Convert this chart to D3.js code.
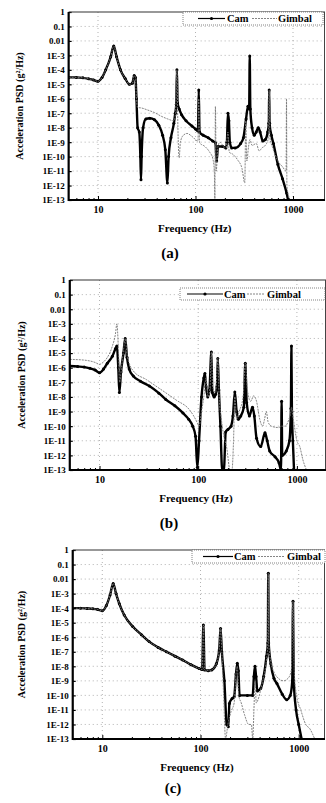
<!DOCTYPE html>
<html>
<head>
<meta charset="utf-8">
<script src="https://cdn.jsdelivr.net/npm/d3@7"></script>
<style>
  body { margin: 0; background: #fff; }
  svg { display: block; }
  text { font-family: "Liberation Serif", "Times New Roman", serif; font-weight: bold; fill: #000; }
</style>
</head>
<body>
<svg id="chart" width="326" height="803"></svg>
<script>
// ---- data ----
const yTickValues = [1, 1e-1, 1e-2, 1e-3, 1e-4, 1e-5, 1e-6, 1e-7, 1e-8, 1e-9, 1e-10, 1e-11, 1e-12, 1e-13];
const yTickLabels = ["1", "0.1", "0.01", "1E-3", "1E-4", "1E-5", "1E-6", "1E-7", "1E-8", "1E-9", "1E-10", "1E-11", "1E-12", "1E-13"];
const xTickValues = [10, 100, 1000];
const xTickLabels = ["10", "100", "1000"];
const xMinorTicks = [6, 7, 8, 9, 20, 30, 40, 50, 60, 70, 80, 90, 200, 300, 400, 500, 600, 700, 800, 900];
const seriesNames = ["Cam", "Gimbal"];
const panelLetters = ["(a)", "(b)", "(c)"];

// [frequency Hz, PSD g^2/Hz]
const camA = [
  [5, 3e-5], [6, 3e-5], [7, 2.8e-5], [8, 2.4e-5], [9, 2e-5], [10, 1.6e-5], [11, 3e-5], [12, 1e-4],
  [13.5, 8e-4], [14.5, 4.5e-3], [15.5, 8e-4], [17, 1e-4], [19, 2.5e-5], [21, 1e-5], [22.5, 1.2e-5],
  [23.5, 4e-5], [24.2, 3e-5], [24.8, 1e-6], [25.5, 1e-8], [26.5, 5e-9], [27.2, 1e-10], [27.6, 2.5e-12],
  [28, 1e-10], [29, 1e-8], [31, 4e-8], [34, 4.5e-8], [38, 3.5e-8], [42, 1.5e-8], [46, 3e-9], [49, 3e-10],
  [51.5, 1.5e-12], [53, 1e-10], [56, 2e-9], [60, 2e-8], [62, 1e-7], [63.5, 4e-7], [64.5, 1e-4],
  [65.5, 5e-7], [68, 2e-7], [72, 8e-8], [80, 3e-8], [92, 1.3e-8], [100, 8e-9], [106, 6e-9], [108, 4e-6],
  [110, 5e-9], [120, 3e-9], [135, 2e-9], [150, 1.2e-9], [160, 9e-10], [165, 5e-11], [170, 5e-10],
  [190, 5e-10], [205, 4e-10], [210, 1e-9], [215, 1e-7], [220, 3e-8], [225, 1e-9], [235, 4e-10],
  [255, 4e-10], [290, 8e-10], [310, 2e-9], [330, 4e-8], [345, 3e-7], [355, 2e-7], [360, 9e-4],
  [365, 2e-7], [380, 1e-8], [400, 3e-9], [420, 5e-9], [440, 1e-8], [460, 5e-9], [490, 1.2e-9],
  [520, 1.5e-9], [550, 5e-9], [565, 2e-8], [570, 4e-6], [575, 2e-8], [600, 3e-9], [630, 8e-10],
  [700, 2.8e-11], [780, 3e-12], [860, 3e-13], [890, 1e-13]
];
const gimbalA = [
  [5, 3e-5], [6, 3e-5], [7, 2.8e-5], [8, 2.4e-5], [9, 2e-5], [10, 1.6e-5], [11, 3e-5], [12, 1e-4],
  [13.5, 8e-4], [14.5, 4.5e-3], [15.5, 8e-4], [17, 1e-4], [19, 2.5e-5], [21, 1e-5], [22.5, 1.2e-5],
  [23.5, 4e-5], [24.2, 3e-5], [24.8, 1e-6], [25.5, 2.5e-7], [28, 2.3e-7], [32, 1.7e-7], [38, 1.1e-7],
  [45, 6e-8], [52, 4e-8], [60, 3e-8], [62.5, 1e-7], [64.5, 1e-4], [66, 1e-8], [68, 8e-11], [70, 1e-9],
  [75, 3e-9], [82, 4e-9], [92, 2.5e-9], [106, 1.2e-9], [108, 1e-6], [110, 9e-10], [125, 5e-10],
  [140, 2e-10], [150, 8e-11], [156, 1e-11], [158, 1e-13], [160, 3e-7], [163, 1e-11], [170, 5e-10],
  [178, 1e-9], [190, 6e-10], [205, 3e-10], [215, 5e-9], [222, 2e-10], [240, 1.5e-10], [270, 6e-11],
  [300, 1.5e-11], [320, 1.5e-12], [328, 3e-8], [336, 5e-11], [350, 5e-10], [362, 1.5e-9], [380, 6e-10],
  [420, 8e-10], [450, 2.5e-10], [480, 4e-10], [520, 6e-10], [560, 2e-9], [570, 4e-6], [580, 2e-9],
  [620, 4e-10], [700, 5e-11], [780, 2e-11], [850, 1e-11], [858, 1e-6], [866, 1e-12], [900, 2e-13],
  [930, 1e-13]
];

const camB = [
  [5, 1.3e-6], [6, 1.2e-6], [7, 1.1e-6], [8, 9e-7], [9, 7e-7], [10, 4.5e-7], [11, 8e-7], [12, 2e-6],
  [13.5, 6e-6], [14.5, 2e-5], [15, 3e-5], [15.5, 1e-6], [15.9, 2e-8], [16.5, 5e-7], [17.5, 1e-5],
  [18.2, 1e-4], [19, 5e-6], [20, 8e-7], [22, 2.7e-7], [26, 1.2e-7], [32, 5.5e-8], [40, 1.8e-8],
  [47, 6.7e-9], [58, 2.5e-9], [70, 8e-10], [80, 3e-10], [88, 1e-10], [94, 2e-11], [98, 1.5e-13],
  [102, 1e-11], [108, 1e-8], [114, 2e-7], [117, 4e-7], [120, 5e-8], [125, 1e-8], [130, 3e-8],
  [136, 1.2e-5], [139, 2e-8], [145, 1e-8], [150, 1.5e-8], [155, 5e-8], [158, 4.3e-6], [162, 3e-8],
  [168, 1e-10], [175, 1e-13], [182, 1e-13], [190, 4e-11], [200, 6e-11], [215, 1e-10], [225, 5e-10],
  [235, 2.2e-8], [245, 1e-9], [255, 3e-10], [270, 5e-10], [290, 2e-9], [300, 2e-6], [310, 4e-9],
  [330, 5e-10], [355, 2e-9], [370, 5e-10], [390, 1.5e-11], [430, 4e-12], [475, 3.5e-11], [500, 1e-11],
  [530, 2e-12], [600, 8e-13], [660, 3e-13], [690, 1e-13], [700, 5e-9], [710, 1e-12], [780, 2e-12],
  [840, 1e-11], [870, 1.6e-9], [880, 3e-5], [890, 1e-9], [910, 1e-11], [935, 1e-13]
];
const gimbalB = [
  [5, 3.7e-6], [7, 3.3e-6], [9, 2.3e-6], [10, 1.7e-6], [11, 2.5e-6], [12, 5e-6], [13.5, 3e-5],
  [14.5, 2e-4], [15, 1e-3], [15.5, 3e-5], [16, 1e-7], [16.7, 1e-6], [17.5, 1.5e-5], [18.2, 1e-4],
  [19, 8e-6], [20, 2e-6], [22, 6e-7], [30, 1.5e-7], [40, 4e-8], [47, 1.9e-8], [60, 6e-9], [81, 1.4e-9],
  [90, 5e-10], [98, 1.7e-10], [102, 1e-10], [108, 1e-9], [114, 1e-8], [120, 2e-7], [126, 1e-8],
  [132, 5e-8], [136, 1.2e-5], [140, 5e-8], [150, 2e-8], [158, 4.3e-6], [163, 1e-8], [170, 5e-10],
  [180, 3e-11], [195, 3e-12], [210, 1e-13], [220, 1e-13], [228, 1e-11], [235, 1e-8], [245, 3e-10],
  [260, 1e-9], [285, 1e-8], [300, 2e-6], [315, 3e-8], [340, 5e-9], [365, 1.2e-8], [390, 5e-9],
  [420, 3e-10], [450, 1e-10], [470, 3e-10], [490, 1e-9], [510, 2e-10], [550, 1e-10], [650, 8e-11],
  [700, 1e-10], [760, 1e-10], [830, 3e-10], [870, 1e-9], [880, 2e-9], [920, 3e-10], [1000, 1e-11],
  [1070, 4e-12], [1150, 5e-13], [1250, 1e-13]
];

const camC = [
  [5, 1e-4], [6, 1e-4], [7, 9.5e-5], [8, 9e-5], [9, 8e-5], [10, 6.5e-5], [11, 1.5e-4], [12, 8e-4],
  [12.9, 5e-3], [13.8, 1e-3], [14.9, 2e-4], [16.7, 3.4e-5], [20.4, 5.4e-6], [25, 1.5e-6], [30, 5e-7],
  [37, 2e-7], [45, 1e-7], [55, 5e-8], [66, 2.7e-8], [80, 1.3e-8], [97, 7e-9], [104, 6e-9], [107, 7e-6],
  [110, 5.6e-9], [120, 5e-9], [130, 5.6e-9], [145, 1.5e-8], [155, 1.3e-7], [160, 4e-6], [165, 1e-7],
  [175, 1e-9], [185, 1e-12], [192, 7e-13], [197, 2.8e-11], [210, 6e-11], [220, 8e-11], [230, 3e-9],
  [237, 1.6e-8], [243, 5e-9], [250, 1e-10], [300, 1e-10], [340, 1e-10], [350, 2e-9], [359, 1e-8],
  [368, 2e-9], [380, 2e-10], [410, 3e-10], [440, 2e-9], [470, 5e-8], [485, 4e-7], [490, 0.025],
  [495, 4e-7], [520, 1.5e-8], [560, 1.5e-9], [600, 6.5e-10], [680, 1.2e-10], [755, 5e-11],
  [820, 1e-10], [860, 1e-9], [875, 3e-4], [890, 1e-9], [940, 1e-11], [1000, 1e-12], [1070, 1e-13]
];
const gimbalC = [
  [5, 1e-4], [6, 1e-4], [7, 9.5e-5], [8, 9e-5], [9, 8e-5], [10, 6.5e-5], [11, 1.5e-4], [12, 8e-4],
  [12.9, 5e-3], [13.8, 1e-3], [14.9, 2e-4], [16.7, 3.4e-5], [20.4, 5.4e-6], [25, 1.5e-6], [30, 5e-7],
  [37, 2e-7], [45, 1e-7], [55, 5e-8], [66, 2.7e-8], [80, 1.3e-8], [97, 7e-9], [104, 6e-9], [107, 7e-6],
  [110, 5.6e-9], [120, 5e-9], [130, 5.6e-9], [145, 1.5e-8], [155, 1.3e-7], [160, 4e-6], [165, 1e-7],
  [172, 1e-10], [180, 1e-13], [190, 1e-12], [205, 8e-12], [220, 3e-11], [230, 3e-9], [237, 1e-8],
  [245, 1e-10], [260, 3e-11], [280, 5e-12], [310, 1e-12], [330, 1e-12], [340, 1e-13], [350, 1e-11],
  [359, 1e-9], [370, 3e-11], [385, 5e-11], [420, 5e-10], [460, 1e-8], [485, 4e-7], [490, 0.025],
  [495, 4e-7], [520, 2e-8], [560, 4e-9], [620, 1.5e-9], [700, 1e-9], [780, 1.5e-9], [840, 5e-9],
  [875, 3e-4], [900, 5e-9], [950, 1e-10], [1050, 1e-11], [1180, 1e-12], [1300, 5e-13], [1456, 1e-13]
];

// ---- layout of each panel (pixel positions) ----
const panels = [
  { cam: camA, gimbal: gimbalA, x10: 98, dec: 97.5, top: 12, bottom: 200, right: 325, ylabX: 19,
    legend: { x: 183, y: 12, w: 140, h: 13, camL: 198, camR: 225, camT: 227, gimL: 252, gimR: 277, gimT: 278 },
    letterX: 170, letterDy: 53 },
  { cam: camB, gimbal: gimbalB, x10: 99.5, dec: 98.7, top: 280, bottom: 470, right: 326, ylabX: 21,
    legend: { x: 180, y: 288, w: 145, h: 12, camL: 187, camR: 223, camT: 224, gimL: 247, gimR: 265, gimT: 267 },
    letterX: 169, letterDy: 53 },
  { cam: camC, gimbal: gimbalC, x10: 102.3, dec: 98.2, top: 550, bottom: 739, right: 325, ylabX: 21,
    legend: { x: 192, y: 550, w: 133, h: 13, camL: 203, camR: 233, camT: 234, gimL: 258, gimR: 285, gimT: 287 },
    letterX: 173, letterDy: 49 }
];

const svg = d3.select("#chart");

panels.forEach((p, i) => {
  const x = d3.scaleLog()
    .domain([5, 2000])
    .range([p.x10 - Math.log10(2) * p.dec, p.x10 + Math.log10(200) * p.dec]);
  const y = d3.scaleLog().domain([1e-13, 1]).range([p.bottom, p.top]);
  const left = x(5);
  const g = svg.append("g");

  const clipId = "clip" + i;
  g.append("clipPath").attr("id", clipId)
    .append("rect").attr("x", left).attr("y", p.top)
    .attr("width", p.right - left).attr("height", p.bottom - p.top);

  // dotted grid
  g.append("g").selectAll("line").data(yTickValues.slice(1)).join("line")
    .attr("x1", left).attr("x2", p.right)
    .attr("y1", d => y(d)).attr("y2", d => y(d))
    .attr("stroke", "#a0a0a0").attr("stroke-width", 0.8).attr("stroke-dasharray", "1,3");
  g.append("g").selectAll("line").data(xTickValues).join("line")
    .attr("x1", d => x(d)).attr("x2", d => x(d))
    .attr("y1", p.top).attr("y2", p.bottom)
    .attr("stroke", "#a0a0a0").attr("stroke-width", 0.8).attr("stroke-dasharray", "1,3");

  // curves
  const line = d3.line()
    .x(d => x(d[0]))
    .y(d => y(Math.max(d[1], 1e-13)))
    .curve(d3.curveMonotoneX);
  const plot = g.append("g").attr("clip-path", `url(#${clipId})`);
  plot.append("path").datum(p.cam)
    .attr("d", line).attr("fill", "none")
    .attr("stroke", "#000").attr("stroke-width", 2.4).attr("stroke-linejoin", "round");
  plot.append("g").selectAll("circle").data(p.cam).join("circle")
    .attr("cx", d => x(d[0])).attr("cy", d => y(Math.max(d[1], 1e-13)))
    .attr("r", 1.5).attr("fill", "#000");
  plot.append("path").datum(p.gimbal)
    .attr("d", line).attr("fill", "none")
    .attr("stroke", "#777").attr("stroke-width", 0.9).attr("stroke-dasharray", "2,1");

  // axes
  const yAxis = d3.axisLeft(y).tickValues(yTickValues)
    .tickFormat((d, j) => yTickLabels[j]).tickSizeInner(-3).tickSizeOuter(0).tickPadding(4);
  const ya = g.append("g").attr("transform", `translate(${left},0)`).call(yAxis);
  ya.select(".domain").remove();
  ya.selectAll("text").attr("font-size", 9).attr("font-family", null);
  ya.selectAll("line").attr("stroke-width", 1.2);

  const xAxis = d3.axisBottom(x).tickValues(xTickValues)
    .tickFormat((d, j) => xTickLabels[j]).tickSizeInner(-4).tickSizeOuter(0).tickPadding(6);
  const xa = g.append("g").attr("transform", `translate(0,${p.bottom})`).call(xAxis);
  xa.select(".domain").remove();
  xa.selectAll("text").attr("font-size", 10).attr("font-family", null);

  const xMinor = d3.axisBottom(x).tickValues(xMinorTicks).tickFormat("").tickSizeInner(-2).tickSizeOuter(0);
  const xm = g.append("g").attr("transform", `translate(0,${p.bottom})`).call(xMinor);
  xm.select(".domain").remove();

  // frame
  g.append("line").attr("x1", left).attr("x2", p.right).attr("y1", p.top).attr("y2", p.top)
    .attr("stroke", "#333").attr("stroke-width", 1.2);
  g.append("line").attr("x1", p.right - 0.5).attr("x2", p.right - 0.5).attr("y1", p.top).attr("y2", p.bottom)
    .attr("stroke", "#444").attr("stroke-width", 1);
  g.append("line").attr("x1", left).attr("x2", left).attr("y1", p.top).attr("y2", p.bottom + 1)
    .attr("stroke", "#000").attr("stroke-width", 2.2);
  g.append("line").attr("x1", left).attr("x2", p.right).attr("y1", p.bottom).attr("y2", p.bottom)
    .attr("stroke", "#000").attr("stroke-width", 2.2);

  // titles
  g.append("text")
    .attr("x", (left + p.right) / 2 - 2).attr("y", p.bottom + 32)
    .attr("text-anchor", "middle").attr("font-size", 11)
    .text("Frequency (Hz)");
  g.append("text")
    .attr("transform", `translate(${p.ylabX},${(p.top + p.bottom) / 2}) rotate(-90)`)
    .attr("text-anchor", "middle").attr("dy", "0.35em").attr("font-size", 10)
    .text("Acceleration PSD (g²/Hz)");
  g.append("text")
    .attr("x", p.letterX).attr("y", p.bottom + p.letterDy)
    .attr("text-anchor", "middle").attr("dy", "0.35em").attr("font-size", 15)
    .text(panelLetters[i]);

  // legend
  const L = p.legend;
  const lg = g.append("g");
  lg.append("rect").attr("x", L.x).attr("y", L.y).attr("width", L.w).attr("height", L.h)
    .attr("fill", "#fff").attr("stroke", "#666").attr("stroke-width", 0.8).attr("stroke-dasharray", "1,1");
  const ly = L.y + L.h / 2;
  lg.append("line").attr("x1", L.camL).attr("x2", L.camR).attr("y1", ly).attr("y2", ly)
    .attr("stroke", "#000").attr("stroke-width", 1.2);
  lg.append("circle").attr("cx", (L.camL + L.camR) / 2).attr("cy", ly).attr("r", 1.6).attr("fill", "#000");
  lg.append("text").attr("x", L.camT).attr("y", ly).attr("dy", "0.35em").attr("font-size", 10.5)
    .text(seriesNames[0]);
  lg.append("line").attr("x1", L.gimL).attr("x2", L.gimR).attr("y1", ly).attr("y2", ly)
    .attr("stroke", "#777").attr("stroke-width", 0.9).attr("stroke-dasharray", "2,1");
  lg.append("text").attr("x", L.gimT).attr("y", ly).attr("dy", "0.35em").attr("font-size", 10.5)
    .text(seriesNames[1]);
});
</script>
</body>
</html>
